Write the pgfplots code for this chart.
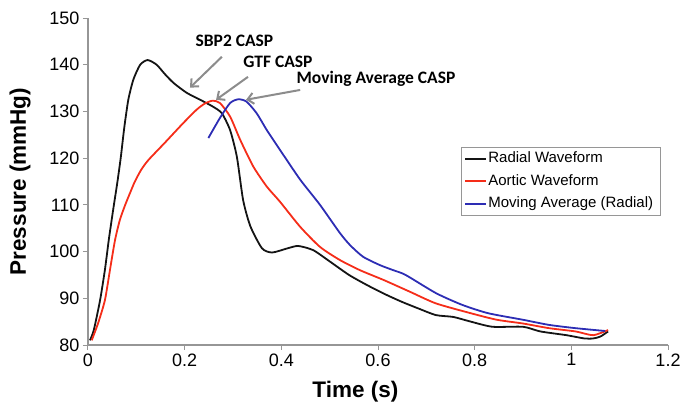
\documentclass[border=0pt]{standalone}
\usepackage{fontspec}
\setmainfont{Liberation Sans}
\newfontfamily\calibri{Carlito}
\usepackage{pgfplots}
\pgfplotsset{compat=1.18}
\usetikzlibrary{arrows.meta}

\definecolor{radial}{RGB}{20,20,20}
\definecolor{aortic}{RGB}{245,45,25}
\definecolor{movavg}{RGB}{45,45,180}
\definecolor{axisgray}{RGB}{150,150,150}
\definecolor{arrowgray}{RGB}{140,140,140}

\begin{document}
\begin{tikzpicture}
\begin{axis}[
  at={(0,0)}, anchor=south west,
  scale only axis,
  width=580bp, height=327bp,
  xmin=0, xmax=1.2, ymin=80, ymax=150,
  xtick={0,0.2,0.4,0.6,0.8,1,1.2},
  ytick={80,90,100,110,120,130,140,150},
  axis x line=bottom, axis y line=left,
  axis line style={-, draw=axisgray, line width=1.3bp},
  tick align=outside, major tick length=5bp,
  tick style={draw=axisgray, line width=1bp},
  /pgf/number format/assume math mode=true,
  tick label style={font=\fontsize{18bp}{21bp}\selectfont},
  xlabel={Time (s)},
  ylabel={Pressure (mmHg)},
  label style={font=\bfseries\fontsize{22.5bp}{26bp}\selectfont},
  xlabel style={at={(axis description cs:0.461,-0.1437)}, anchor=center},
  ylabel style={at={(axis description cs:-0.117,0.5)}, anchor=center},
  legend style={at={(axis description cs:0.643,0.6055)}, anchor=north west,
    draw=axisgray, line width=0.8bp, inner xsep=3bp, inner ysep=2.5bp,
    font=\fontsize{15bp}{18bp}\selectfont,
    nodes={inner xsep=1bp, inner ysep=2bp, text height=11bp, text depth=3bp},
    row sep=4.5bp},
  legend cell align=left,
  legend image code/.code={\draw[#1, line width=2bp] (0bp,0bp) -- (21bp,0bp);},
  clip=false,
]
% radial pressure waveform
\addplot[radial, line width=1.8bp, smooth, tension=0.4] coordinates {
(0.004,81)(0.012,83.2)(0.025,89.6)(0.035,96.1)(0.043,102.5)(0.052,108.9)
(0.061,115)(0.068,120.3)(0.075,126.5)(0.0834,132.5)(0.0938,136.8)(0.108,140)
(0.1235,141)(0.142,140)(0.159,138)(0.177,136.1)(0.204,134)(0.232,132.5)
(0.259,131)(0.277,129.6)(0.294,126)(0.308,120.3)(0.321,111)(0.336,105.4)
(0.36,100.7)(0.381,99.8)(0.413,100.7)(0.435,101.2)(0.466,100.3)(0.5,97.9)
(0.54,95)(0.576,92.9)(0.612,91)(0.648,89.3)(0.684,87.8)(0.72,86.4)
(0.756,86)(0.792,85)(0.837,83.9)(0.9,83.9)(0.936,82.9)(0.99,82.1)
(1.027,81.4)(1.045,81.4)(1.06,81.8)(1.076,82.9)
};
\addlegendentry{\makebox[168bp][l]{Radial Waveform}}
% aortic pressure waveform
\addplot[aortic, line width=1.8bp, smooth, tension=0.4] coordinates {
(0.0077,81)(0.021,84.7)(0.035,89.6)(0.0455,96.1)(0.056,102.5)(0.066,106.8)
(0.077,110)(0.088,112.8)(0.097,115)(0.11,117.5)(0.125,119.6)(0.159,123.3)
(0.197,127.5)(0.225,130.4)(0.242,131.7)(0.258,132.3)(0.273,131.8)
(0.294,128.9)(0.315,123.9)(0.342,118.2)(0.37,113.9)(0.397,110.7)
(0.439,105.3)(0.48,101)(0.521,98.2)(0.563,96)(0.612,93.9)(0.666,91.4)
(0.72,88.9)(0.792,86.8)(0.846,85.4)(0.9,84.6)(0.954,83.6)(1.009,82.9)
(1.045,82.1)(1.076,83.2)
};
\addlegendentry{\makebox[168bp][l]{Aortic Waveform}}
% moving average of the radial waveform
\addplot[movavg, line width=1.8bp, smooth, tension=0.4] coordinates {
(0.249,124.3)(0.273,128.6)(0.294,131.8)(0.311,132.6)(0.328,132.1)
(0.349,129.6)(0.37,126)(0.397,121.8)(0.439,115.4)(0.48,110)(0.521,104)
(0.542,101.4)(0.569,98.9)(0.604,97.1)(0.632,96)(0.657,95)(0.72,91.1)
(0.774,88.6)(0.828,86.8)(0.9,85.4)(0.954,84.3)(1.009,83.6)(1.07,83)
};
\addlegendentry{\makebox[168bp][l]{Moving Average (Radial)}}

% CASP annotations
\tikzset{casp/.style={font=\calibri\bfseries\fontsize{17.5bp}{20bp}\selectfont, inner sep=0pt},
         casparrow/.style={draw=arrowgray, line width=2bp, -{Straight Barb[length=6bp,width=11bp]}}}
\node[casp] at (axis cs:0.303,145.2) {SBP2 CASP};
\node[casp] at (axis cs:0.393,140.6) {GTF CASP};
\node[casp] at (axis cs:0.596,137.0) {Moving Average CASP};
\draw[casparrow] (axis cs:0.277,141.7) -- (axis cs:0.211,135.1);
\draw[casparrow] (axis cs:0.331,137.4) -- (axis cs:0.265,132.5);
\draw[casparrow] (axis cs:0.439,134.6) -- (axis cs:0.327,132.5);
\end{axis}
\pgfresetboundingbox
\path[use as bounding box] (-88bp,-61bp) rectangle (593bp,345bp);
\end{tikzpicture}
\end{document}
